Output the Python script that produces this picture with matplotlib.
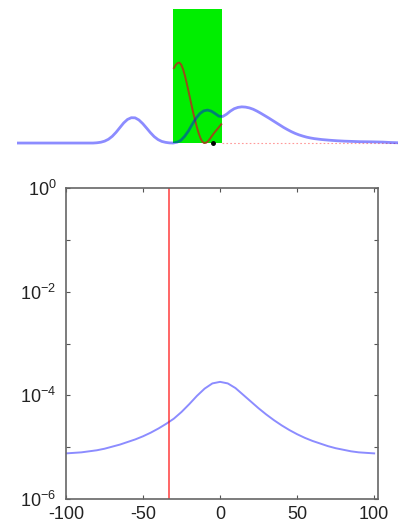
"""
Two-panel figure: window sketch (top) and log-scale spectrum with cutoff (bottom).
"""
import numpy as np
import matplotlib
matplotlib.use('Agg')
import matplotlib.pyplot as plt
from matplotlib.patches import Rectangle

plt.rcParams['font.family'] = ['Liberation Sans', 'DejaVu Sans']
plt.rcParams['mathtext.fontset'] = 'custom'
plt.rcParams['mathtext.rm'] = 'Liberation Sans'
plt.rcParams['mathtext.it'] = 'Liberation Sans'
plt.rcParams['mathtext.default'] = 'regular'
plt.rcParams['axes.unicode_minus'] = False

# ---------------------------------------------------------------------------
# Top panel data (arbitrary units, x 0..100, green window height = 1)
# ---------------------------------------------------------------------------
top_x = [0, 20, 21, 22, 23, 24, 25, 26, 27, 28, 29, 30, 31, 32, 33, 34, 35,
         36, 37, 38, 39, 40, 41, 42, 43, 44, 45, 46, 47, 48, 49, 50, 51, 52,
         53, 54, 55, 56, 57, 58, 59, 60, 61, 62, 63, 64, 65, 66, 67, 68, 69,
         70, 71, 72, 73, 74, 75, 76, 77, 78, 80, 82, 84, 86, 88, 90, 93, 96,
         98, 100]
top_y = [0, 0, 0.002, 0.006, 0.014, 0.028, 0.05, 0.08, 0.115, 0.15, 0.176,
         0.189, 0.188, 0.172, 0.145, 0.112, 0.078, 0.048, 0.026, 0.012, 0.005,
         0.001, 0.0, 0.006, 0.02, 0.05, 0.09, 0.14, 0.185, 0.22, 0.24, 0.246,
         0.238, 0.22, 0.2, 0.198, 0.215, 0.238, 0.256, 0.266, 0.27, 0.268,
         0.262, 0.252, 0.238, 0.222, 0.205, 0.188, 0.17, 0.152, 0.134, 0.116,
         0.1, 0.085, 0.072, 0.061, 0.052, 0.044, 0.038, 0.033, 0.026, 0.021,
         0.017, 0.014, 0.012, 0.01, 0.009, 0.007, 0.004, 0.002]

win_x = [41.2, 41.7, 42.2, 42.6, 43.1, 43.6, 44.1, 44.6, 45.1, 45.6, 46.1,
         46.6, 47.1, 47.6, 48.1, 48.6, 49.1, 49.6, 50.1, 50.6, 51.1, 51.6,
         52.1, 52.6, 53.1, 53.6]
win_y = [0.56, 0.585, 0.598, 0.60, 0.585, 0.55, 0.50, 0.44, 0.375, 0.31,
         0.245, 0.185, 0.13, 0.08, 0.04, 0.012, 0.0, 0.002, 0.012, 0.03,
         0.05, 0.07, 0.088, 0.105, 0.122, 0.14]

window = (40.9, 53.8)
marker_x = 51.4

# ---------------------------------------------------------------------------
# Bottom panel data
# ---------------------------------------------------------------------------
freq = list(range(-100, 101, 5))
log_power = [-5.12, -5.11, -5.10, -5.08, -5.06, -5.03, -4.99, -4.95, -4.90,
             -4.85, -4.79, -4.72, -4.64, -4.55, -4.45, -4.32, -4.17, -4.01,
             -3.87, -3.77, -3.74, -3.77, -3.86, -3.99, -4.12, -4.25, -4.37,
             -4.48, -4.58, -4.67, -4.75, -4.82, -4.88, -4.93, -4.98, -5.02,
             -5.05, -5.08, -5.10, -5.11, -5.12]
cutoff = -33

BLUE = (0, 0, 1, 0.45)

W, H = 402, 527
fig = plt.figure(figsize=(W / 100, H / 100), dpi=100)

# ---- top ----
axt = fig.add_axes([17 / W, (H - 150) / H, (398 - 17) / W, 145 / H])
axt.set_xlim(0, 100)
axt.set_ylim(-0.052, 1.03)
axt.axis('off')
axt.add_patch(Rectangle((window[0], 0), window[1] - window[0], 1.0,
                        color='#00ee00', lw=0, zorder=1))
axt.plot(top_x, top_y, color=BLUE, lw=2.0, zorder=3)
axt.plot(win_x, win_y, color='#9a4a1a', lw=1.4, zorder=2)
axt.plot([window[1], 100], [0, 0], ls=(0, (1.5, 2)), color='#ff9999', lw=0.8, zorder=2)
axt.plot(marker_x, 0, 'o', color='k', ms=2.5, zorder=4)

# ---- bottom ----
ax = fig.add_axes([66 / W, (H - 499) / H, (378 - 66) / W, (499 - 188) / H])
ax.plot(freq, 10.0 ** np.array(log_power), color=BLUE, lw=1.4)
ax.axvline(cutoff, color=(1, 0, 0, 0.65), lw=1.3)
ax.set_yscale('log')
ax.set_xlim(-100, 102.5)
ax.set_ylim(1e-6, 1)
ax.set_xticks([-100, -50, 0, 50, 100])
ax.set_yticks([1e-6, 1e-5, 1e-4, 1e-3, 1e-2, 1e-1, 1])
ax.set_yticklabels([r'$10^{-6}$', '', r'$10^{-4}$', '', r'$10^{-2}$', '', r'$10^{0}$'])
ax.minorticks_off()
ax.tick_params(direction='in', top=True, right=True, length=3, width=0.8,
               colors='#555555', labelcolor='#222222', labelsize=13)
ax.tick_params(axis='x', pad=5)
ax.tick_params(axis='y', pad=7)
for s in ax.spines.values():
    s.set_color('#666666')
    s.set_linewidth(1.2)

plt.savefig('out.png', dpi=100)
